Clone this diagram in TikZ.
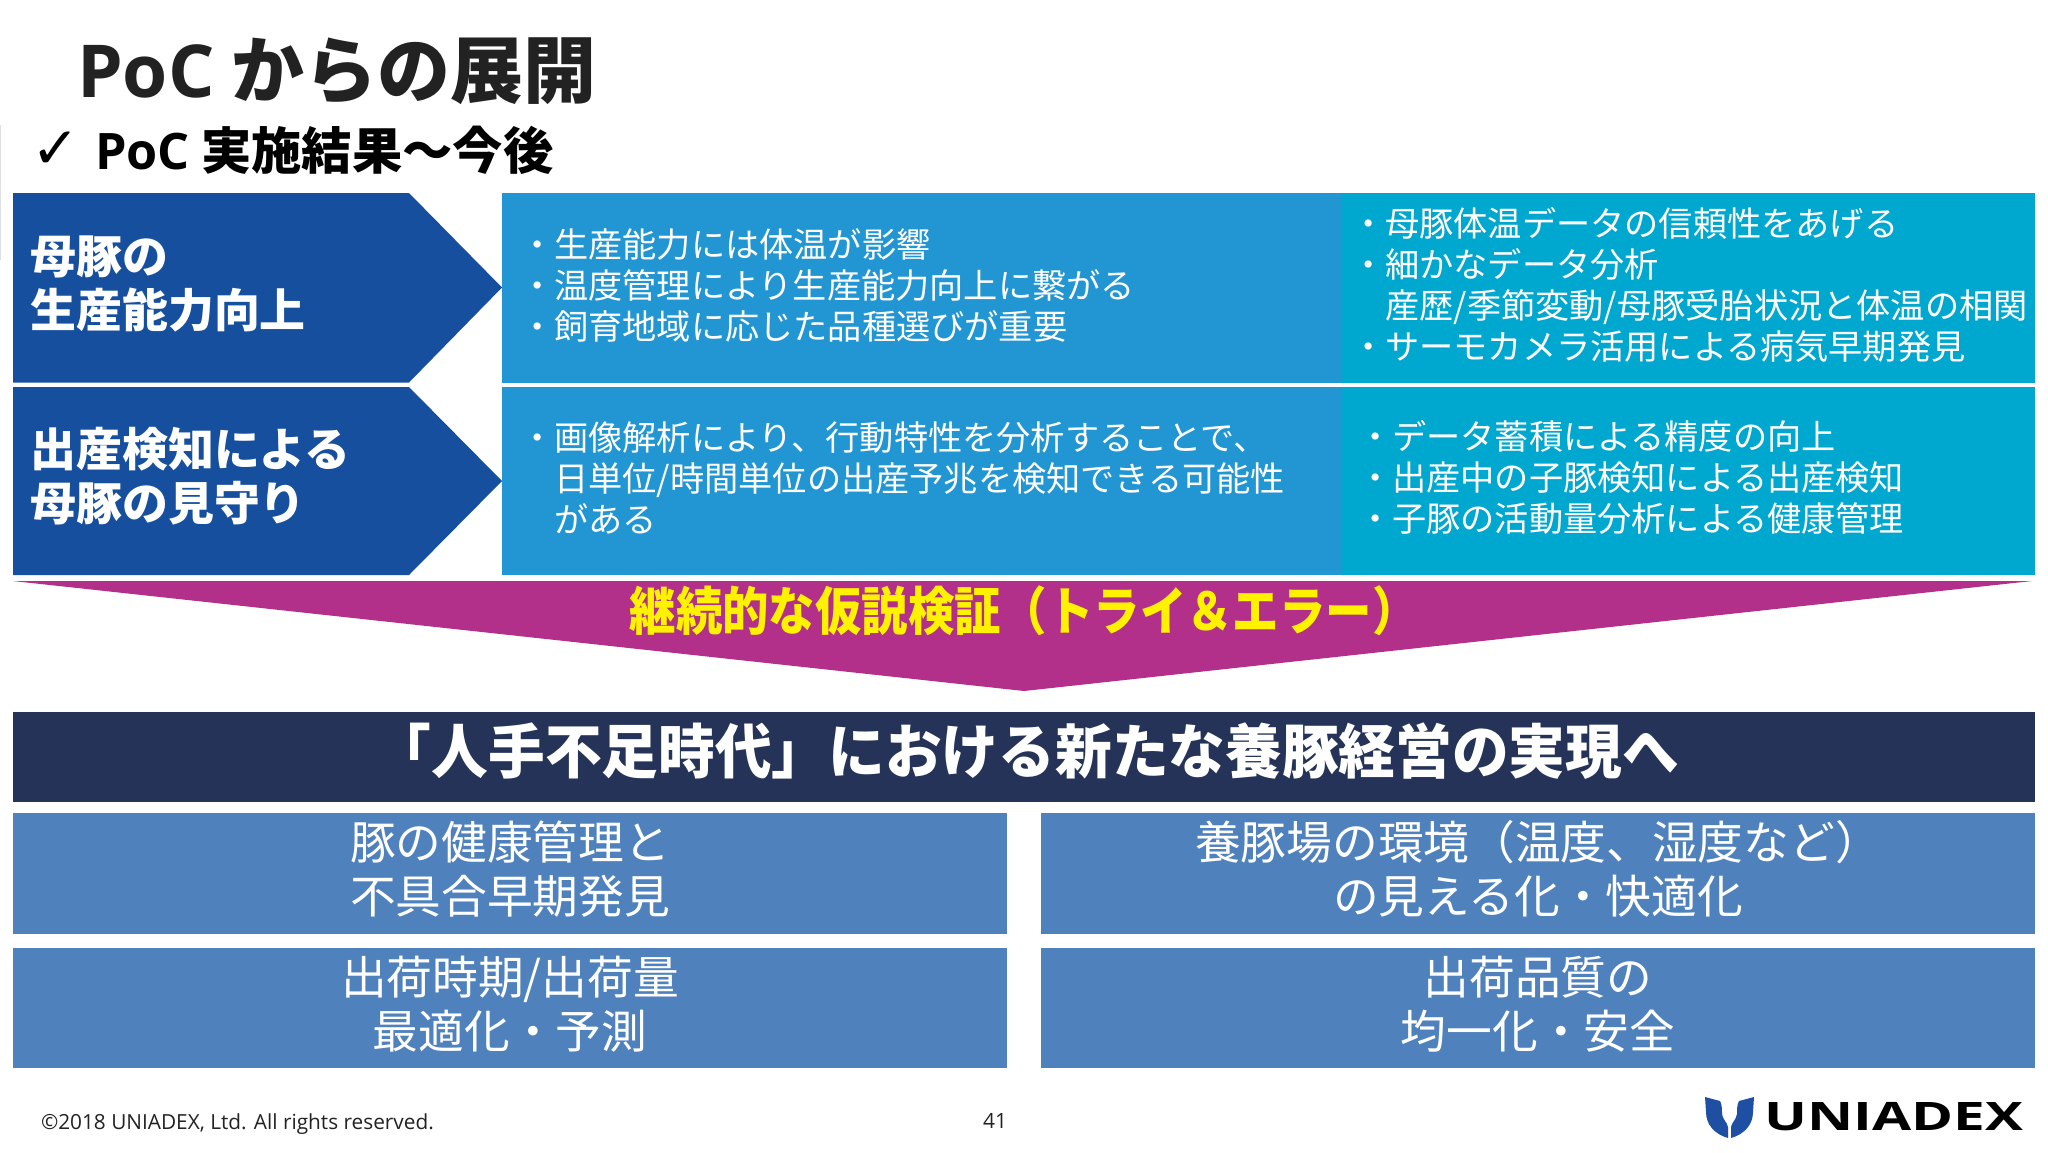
\documentclass[tikz,border=0pt]{standalone}
\usepackage{fontspec}
\setmainfont{Noto Sans CJK JP}
\newfontfamily\lat{Open Sans}
\newfontfamily\sym{DejaVu Sans}
\definecolor{deepblue}{HTML}{174F9F}
\definecolor{midblue}{HTML}{2196D3}
\definecolor{tealblue}{HTML}{00A7CF}
\definecolor{magentab}{HTML}{B22F8A}
\definecolor{navyband}{HTML}{243357}
\definecolor{boxblue}{HTML}{4F81BD}
\definecolor{titleink}{HTML}{222222}
\definecolor{logoblue}{HTML}{1F4FA3}
\newcommand{\fs}[2]{\fontsize{#1}{#2}\selectfont}
\tikzset{
  txt/.style={inner sep=0pt,outer sep=0pt},
  body/.style={txt,anchor=west,align=left,text=white,font=\fs{34.2}{41}},
  head/.style={txt,anchor=west,align=left,text=white,font=\fs{45.9}{54}\bfseries},
  cell/.style={txt,anchor=center,align=center,text=white,font=\fs{45.7}{54.5}}
}
\begin{document}
\begin{tikzpicture}[x=1pt,y=-1pt]
\useasboundingbox (0,0) rectangle (2048,1152);
\fill[white] (0,0) rectangle (2048,1152);
\draw[black!12,line width=1pt] (0.5,125) -- (0.5,260);
% title
\node[txt,anchor=west,text=titleink,font=\fs{73}{73}\bfseries] (title) at (77,71) {{\lat PoC} からの展開};
\node[txt,anchor=west,font=\fs{58}{58}\sym] (check) at (31,150) {✓};
\node[txt,anchor=west,text=black,font=\fs{50.3}{51}\bfseries] (sub) at (95,150) {{\lat PoC} 実施結果～今後};
% row fills
\fill[midblue] (502,193) rectangle (1341,382.5);
\fill[tealblue] (1341,193) rectangle (2035,382.5);
\fill[midblue] (502,387) rectangle (1341,575);
\fill[tealblue] (1341,387) rectangle (2035,575);
\fill[deepblue] (13,193) -- (409,193) -- (502,287.5) -- (409,382.5) -- (13,382.5) -- cycle;
\fill[deepblue] (13,387) -- (409,387) -- (502,481) -- (409,575) -- (13,575) -- cycle;
\node[head] (h1) at (30.5,284) {母豚の\\生産能力向上};
\node[head] (h2) at (30.5,476) {出産検知による\\母豚の見守り};
\node[body] (b1) at (520,285) {・生産能力には体温が影響\\・温度管理により生産能力向上に繋がる\\・飼育地域に応じた品種選びが重要};
\node[body] (b2) at (1351,285) {・母豚体温データの信頼性をあげる\\・細かなデータ分析\\\phantom{・}産歴/季節変動/母豚受胎状況と体温の相関\\・サーモカメラ活用による病気早期発見};
\node[body] (b3) at (520,477.5) {・画像解析により、行動特性を分析することで、\\\phantom{・}日単位/時間単位の出産予兆を検知できる可能性\\\phantom{・}がある};
\node[body] (b4) at (1358,477.5) {・データ蓄積による精度の向上\\・出産中の子豚検知による出産検知\\・子豚の活動量分析による健康管理};
% funnel
\fill[magentab] (13,581) -- (2032,581) -- (1024,691) -- cycle;
\node[txt,text=yellow,font=\fs{46.4}{46}\bfseries,yscale=1.12] (funnel) at (1024,611) {継続的な仮説検証（トライ＆エラー）};
% band
\fill[navyband] (13,712) rectangle (2035,802);
\node[txt,text=white,font=\fs{56.7}{58}\bfseries,yscale=1.04] (band) at (1027,751) {「人手不足時代」における新たな養豚経営の実現へ};
% cells
\fill[boxblue] (13,813) rectangle (1007,934);
\fill[boxblue] (1041,813) rectangle (2035,934);
\fill[boxblue] (13,948) rectangle (1007,1068);
\fill[boxblue] (1041,948) rectangle (2035,1068);
\node[cell] (c1) at (510,869) {豚の健康管理と\\不具合早期発見};
\node[cell] (c2) at (1538,869) {養豚場の環境（温度、湿度など）\\の見える化・快適化};
\node[cell] (c3) at (510,1004) {出荷時期/出荷量\\最適化・予測};
\node[cell] (c4) at (1538,1004) {出荷品質の\\均一化・安全};
% footer
\node[txt,anchor=west,text=titleink,font=\fs{20.8}{21}\lat] (copy) at (41,1124) {©2018 UNIADEX, Ltd. All rights reserved.};
\node[txt,text=titleink,font=\fs{21}{21}\lat] (page) at (995,1121) {41};
% logo
\fill[logoblue] (1705,1097) -- (1720,1101) .. controls (1722,1104) and (1722,1110) .. (1722,1114) .. controls (1723,1120) and (1727,1122) .. (1728,1127) -- (1728,1138) .. controls (1714,1134) and (1706,1124) .. (1706,1112) -- cycle;
\fill[logoblue] (1754,1097) -- (1739,1101) .. controls (1737,1104) and (1737,1110) .. (1737,1114) .. controls (1736,1120) and (1732,1122) .. (1731,1127) -- (1731,1138) .. controls (1745,1134) and (1753,1124) .. (1753,1112) -- cycle;
\node[txt,text=black,font=\fs{40}{40}\lat\bfseries,xscale=1.42,yscale=0.98] (logo) at (1894,1117) {UNIADEX};
\end{tikzpicture}
\end{document}
